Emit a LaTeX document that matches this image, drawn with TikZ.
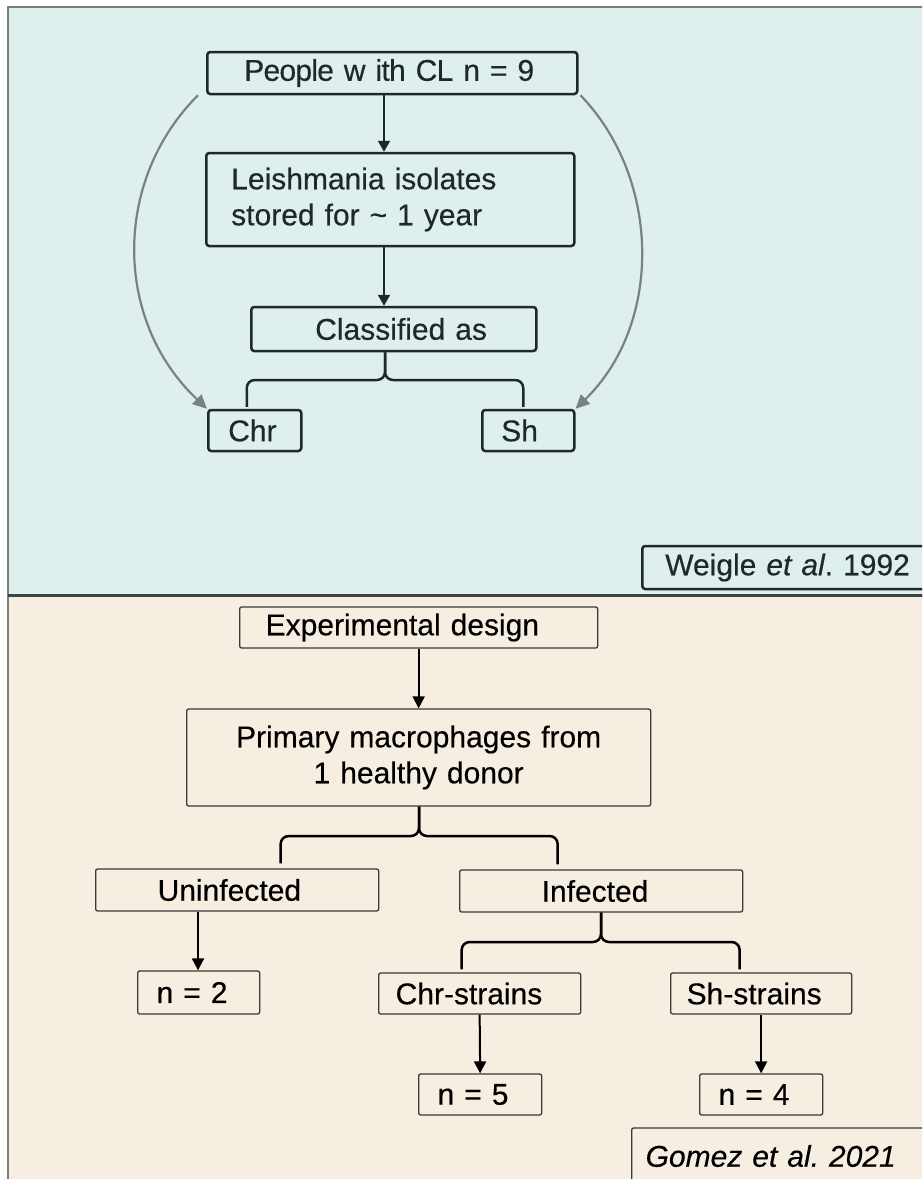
\documentclass[tikz,border=0pt]{standalone}
\usepackage{fontspec}
\setmainfont{Liberation Sans}[FakeBold=0.35]
\frenchspacing
\usetikzlibrary{arrows.meta}

\definecolor{topbg}{HTML}{DFEFEE}
\definecolor{botbg}{HTML}{F6EEE0}
\definecolor{ink}{HTML}{1C2A29}
\definecolor{framegray}{HTML}{7A7F7E}
\definecolor{sepline}{HTML}{3E4442}
\definecolor{curvegray}{HTML}{768382}
\definecolor{thinline}{HTML}{3A3A3A}

\tikzset{
  topbox/.style={draw=ink, line width=2.5pt, rounded corners=3pt, text=ink,
    anchor=west, inner xsep=0pt, inner ysep=0pt, align=left,
    font=\fontsize{30}{36}\selectfont},
  botbox/.style={draw=thinline, line width=1.3pt, rounded corners=2pt, text=black,
    anchor=west, inner xsep=0pt, inner ysep=0pt, align=left,
    font=\fontsize{30}{36}\selectfont},
  darr/.style={draw=ink, line width=2.2pt, -{Triangle[width=12pt,length=11pt]}},
  barr/.style={draw=black, line width=2pt, -{Triangle[width=12pt,length=12pt]}},
  garr/.style={draw=curvegray, line width=2.2pt,
    -{Triangle[width=13pt,length=14pt,fill=curvegray]}},
  tbrace/.style={draw=ink, line width=2.5pt, rounded corners=8pt},
  bbrace/.style={draw=black, line width=2.5pt, rounded corners=8pt},
}

\begin{document}
\begin{tikzpicture}[x=1pt, y=-1pt]
\useasboundingbox (0,0) rectangle (922,1179);
\clip (0,0) rectangle (922,1179);
\fill[white] (0,0) rectangle (922,1179);

% two panels
\draw[draw=framegray, fill=topbg, line width=2.5pt] (8,7) rectangle (935,595);
\draw[draw=framegray, fill=botbg, line width=2.5pt] (8,596) rectangle (935,1190);
\draw[sepline, line width=3pt] (8,595.5) -- (935,595.5);

% ---------- upper panel ----------
\node[topbox, text width=370, minimum height=42] (people) at (206,73)
  {\hspace*{37pt}\addfontfeatures{LetterSpace=-2.5}People w ith CL n = 9};
\node[topbox, text width=368, minimum height=93] (leish) at (205,199.5)
  {\hspace*{25pt}Leishmania isolates\\\hspace*{25pt}stored for \textasciitilde{} 1 year};
\node[topbox, text width=285, minimum height=44] (class) at (250,329)
  {\hspace*{64pt}Classified as};
\node[topbox, text width=93, minimum height=41] (chr) at (207,430.5)
  {\hspace*{20pt}Chr};
\node[topbox, text width=92, minimum height=41] (sh) at (481,430.5)
  {\hspace*{19pt}Sh};
\node[topbox, text width=300, minimum height=43] (weigle) at (641,567.5)
  {\hspace*{23pt}Weigle \textit{et al}. 1992};

\coordinate (trunk) at (384,0);
\draw[darr] (people.south -| trunk) -- (leish.north -| trunk);
\draw[darr] (leish.south -| trunk) -- (class.north -| trunk);

\coordinate (tjoin) at (385,380);
\draw[tbrace] (class.south -| tjoin) -- (tjoin) -| ([xshift=-8pt,yshift=2pt]chr.north);
\draw[tbrace] (class.south -| tjoin) -- (tjoin) -| ([xshift=-5pt,yshift=2pt]sh.north);

\draw[garr] ([xshift=-8pt]people.south west) .. controls (113,180) and (113,320) .. (chr.north west);
\draw[garr] ([xshift=2pt]people.south east) .. controls (662,180) and (662,325) .. (sh.north east);

% ---------- lower panel ----------
\node[botbox, text width=358, minimum height=41] (exp) at (239,627.5)
  {\hspace*{26pt}Experimental design};
\node[botbox, text width=464, minimum height=97, align=center] (prim) at (186,757.5)
  {Primary macrophages from\\1 healthy donor};
\node[botbox, text width=283, minimum height=42] (uninf) at (95,890)
  {\hspace*{62pt}Uninfected};
\node[botbox, text width=283, minimum height=42] (inf) at (459,891)
  {\hspace*{82pt}Infected};
\node[botbox, text width=122, minimum height=43] (n2) at (137,992.5)
  {\hspace*{19pt}n = 2};
\node[botbox, text width=202, minimum height=41] (chrs) at (378,993.5)
  {\hspace*{17pt}Chr-strains};
\node[botbox, text width=181, minimum height=41] (shs) at (670,993.5)
  {\hspace*{16pt}Sh-strains};
\node[botbox, text width=123, minimum height=41] (n5) at (418,1094.5)
  {\hspace*{19pt}n = 5};
\node[botbox, text width=123, minimum height=41] (n4) at (699,1094.5)
  {\hspace*{19pt}n = 4};
\node[botbox, text width=310, minimum height=56, font=\fontsize{30}{36}\selectfont\itshape] (gomez) at (631,1156)
  {\hspace*{14pt}Gomez et al. 2021};

\draw[barr] (exp.south) -- (prim.north);

\coordinate (pjoin) at (419,836);
\draw[bbrace] (prim.south -| pjoin) -- (pjoin) -| ([xshift=43.5pt,yshift=5pt]uninf.north);
\draw[bbrace] (prim.south -| pjoin) -- (pjoin) -| ([xshift=-43.5pt,yshift=5pt]inf.north);

\coordinate (uarrow) at (198,0);
\draw[barr] (uninf.south -| uarrow) -- (n2.north -| uarrow);

\coordinate (ijoin) at (601,942);
\draw[bbrace] (inf.south -| ijoin) -- (ijoin) -| ([xshift=-18pt,yshift=3pt]chrs.north);
\draw[bbrace] (inf.south -| ijoin) -- (ijoin) -| ([xshift=-21.5pt,yshift=3pt]shs.north);

\draw[barr] (chrs.south) -- (n5.north);
\draw[barr] (shs.south) -- (n4.north);
\end{tikzpicture}
\end{document}
